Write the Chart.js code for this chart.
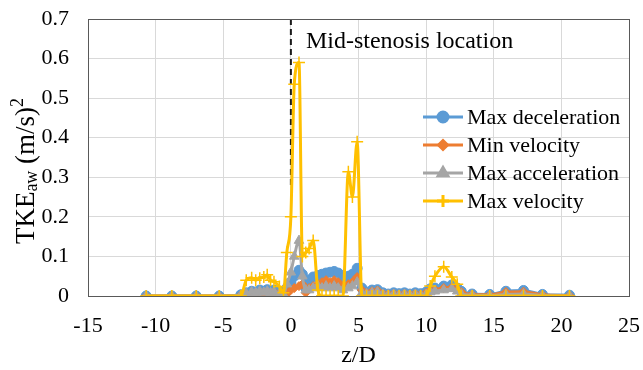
<!DOCTYPE html>
<html>
<head>
<meta charset="utf-8">
<script src="https://cdn.jsdelivr.net/npm/chart.js@4.4.1/dist/chart.umd.min.js"></script>
<style>
  html, body { margin: 0; padding: 0; background: #ffffff; }
  #wrap { width: 643px; height: 370px; }
</style>
</head>
<body>
<div id="wrap"><canvas id="c" width="643" height="370"></canvas></div>
<script>
// ---- data ----
const zD = [-10.7, -8.8, -7.0, -5.3, -3.7, -3.3, -2.9, -2.6, -2.3, -2.0, -1.75, -1.5, -1.25, -0.85, -0.55, -0.3,
  0.0, 0.25, 0.6, 0.85, 1.1, 1.35, 1.65, 2.0, 2.3, 2.6, 2.9, 3.2, 3.5, 3.85, 4.25, 4.55, 4.9, 5.25, 5.6,
  6.0, 6.4, 6.8, 7.2, 7.6, 8.0, 8.4, 8.8, 9.2, 9.6, 10.0, 10.3, 10.65, 11.3, 11.9, 12.3, 12.6, 13.4,
  14.7, 15.9, 17.2, 18.6, 20.6];

const maxDeceleration = [0, 0, 0, 0, 0.003, 0.008, 0.012, 0.01, 0.015, 0.012, 0.016, 0.012, 0.015, 0.01, 0.008, 0.02,
  0.035, 0.05, 0.065, 0.055, 0.02, 0.04, 0.048, 0.052, 0.055, 0.058, 0.06, 0.062, 0.058, 0.045, 0.05, 0.055, 0.07, 0.02, 0.01,
  0.015, 0.016, 0.008, 0.005, 0.008, 0.006, 0.008, 0.005, 0.008, 0.006, 0.01, 0.018, 0.02, 0.025, 0.028, 0.02, 0.012, 0.005,
  0.004, 0.012, 0.014, 0.004, 0.002];

const minVelocity = [0, 0, 0, 0, 0.002, 0.005, 0.008, 0.006, 0.01, 0.008, 0.01, 0.008, 0.01, 0.006, 0.004, 0.006,
  0.015, 0.02, 0.025, 0.03, 0.008, 0.02, 0.025, 0.03, 0.035, 0.04, 0.035, 0.04, 0.035, 0.025, 0.03, 0.035, 0.048, 0.015, 0.008,
  0.012, 0.014, 0.006, 0.004, 0.006, 0.004, 0.006, 0.004, 0.006, 0.004, 0.008, 0.014, 0.016, 0.02, 0.022, 0.016, 0.01, 0.004,
  0.003, 0.01, 0.011, 0.003, 0.001];

const maxAcceleration = [0, 0, 0, 0, 0.002, 0.006, 0.01, 0.008, 0.012, 0.009, 0.012, 0.008, 0.01, 0.005, 0.004, 0.03,
  0.06, 0.1, 0.14, 0.05, 0.015, 0.015, 0.02, 0.025, 0.02, 0.025, 0.02, 0.025, 0.02, 0.015, 0.02, 0.025, 0.035, 0.008, 0.005,
  0.008, 0.01, 0.004, 0.002, 0.004, 0.002, 0.004, 0.002, 0.004, 0.002, 0.004, 0.01, 0.012, 0.015, 0.018, 0.012, 0.005, 0.002,
  0.001, 0.004, 0.005, 0.001, 0];

const maxVelocity = [0, 0, 0, 0, 0, 0.04, 0.046, 0.04, 0.045, 0.048, 0.054, 0.04, 0.036, 0.024, 0.008, 0.11,
  0.20, 0.535, 0.59, 0.10, 0.11, 0.12, 0.14, 0.015, 0, 0, 0, 0, 0, 0, 0.314, 0.25, 0.39, 0, 0,
  0, 0, 0, 0, 0, 0, 0, 0, 0, 0, 0, 0.025, 0.05, 0.074, 0.048, 0.03, 0, 0,
  0, 0, 0, 0, 0];

const seriesNames = ["Max deceleration", "Min velocity", "Max acceleration", "Max velocity"];
const xTicks = [-15, -10, -5, 0, 5, 10, 15, 20, 25];
const yTicks = [0, 0.1, 0.2, 0.3, 0.4, 0.5, 0.6, 0.7];
const markerZ = 0;            // mid-stenosis location
const markerTop = 0.7, markerBottom = 0.28;
const annotationText = "Mid-stenosis location";
const xTitle = "z/D";

// ---- build ----
const colors = ["#5B9BD5", "#ED7D31", "#A5A5A5", "#FFC000"];
const styles = ["circle", "rectRot", "triangle", "cross"];
const radii = [5, 4.5, 5.5, 6];
const allSeries = [maxDeceleration, minVelocity, maxAcceleration, maxVelocity];
const toPts = arr => arr.map((v, i) => ({ x: zD[i], y: v }));

const datasets = allSeries.map((arr, k) => ({
  label: seriesNames[k],
  data: toPts(arr),
  showLine: true,
  borderColor: colors[k],
  backgroundColor: colors[k],
  borderWidth: 3,
  pointStyle: styles[k],
  pointRadius: radii[k],
  pointBorderWidth: k === 3 ? 1.5 : 1,
  pointBorderColor: colors[k],
  pointBackgroundColor: colors[k],
  cubicInterpolationMode: 'monotone',
  tension: 0.4,
  order: 3 - k
}));

const SERIF = '"Liberation Serif", "Times New Roman", serif';

const overlay = {
  id: 'overlay',
  beforeDatasetsDraw(chart) {
    const { ctx, scales } = chart;
    const x = scales.x.getPixelForValue(markerZ);
    ctx.save();
    ctx.strokeStyle = '#1a1a1a';
    ctx.lineWidth = 2;
    ctx.setLineDash([6, 4]);
    ctx.beginPath();
    ctx.moveTo(x, scales.y.getPixelForValue(markerTop));
    ctx.lineTo(x, scales.y.getPixelForValue(markerBottom));
    ctx.stroke();
    ctx.restore();
  },
  afterDatasetsDraw(chart) {
    const { ctx, chartArea: a, scales } = chart;
    ctx.save();
    // plot border
    ctx.strokeStyle = '#595959';
    ctx.lineWidth = 1;
    ctx.strokeRect(Math.round(a.left) + 0.5, Math.round(a.top) + 0.5, Math.round(a.right - a.left), Math.round(a.bottom - a.top));

    // annotation
    ctx.fillStyle = '#000';
    ctx.font = '24px ' + SERIF;
    ctx.textAlign = 'left';
    ctx.textBaseline = 'alphabetic';
    ctx.fillText(annotationText, scales.x.getPixelForValue(markerZ) + 15, 48);

    // legend
    const lx0 = 423, lx1 = 463, tx = 467;
    const ys = [117, 145, 173, 201];
    ctx.font = '22px ' + SERIF;
    seriesNames.forEach((name, k) => {
      const y = ys[k];
      ctx.strokeStyle = colors[k];
      ctx.lineWidth = 3;
      ctx.setLineDash([]);
      ctx.beginPath();
      ctx.moveTo(lx0, y); ctx.lineTo(lx1, y); ctx.stroke();
      ctx.fillStyle = colors[k];
      Chart.helpers.drawPoint(ctx, { pointStyle: styles[k], radius: radii[k], borderWidth: k === 3 ? 1.5 : 1, rotation: 0 }, (lx0 + lx1) / 2, y);
      ctx.fillStyle = '#000';
      ctx.textBaseline = 'middle';
      ctx.fillText(name, tx, y + 1);
    });

    // x title
    ctx.textAlign = 'center';
    ctx.textBaseline = 'alphabetic';
    ctx.font = '24px ' + SERIF;
    ctx.fillText(xTitle, (a.left + a.right) / 2, 362);

    // y title with sub/superscript
    ctx.translate(34, 171);
    ctx.rotate(-Math.PI / 2);
    const big = '27px ' + SERIF, small = '18px ' + SERIF;
    const parts = [
      { t: 'TKE', f: big, dy: 0 },
      { t: 'aw', f: small, dy: 3 },
      { t: ' (m/s)', f: big, dy: 0 },
      { t: '2', f: small, dy: -11 }
    ];
    let total = 0;
    parts.forEach(p => { ctx.font = p.f; p.w = ctx.measureText(p.t).width; total += p.w; });
    let cx = -total / 2;
    ctx.textAlign = 'left';
    ctx.textBaseline = 'alphabetic';
    parts.forEach(p => { ctx.font = p.f; ctx.fillText(p.t, cx, p.dy); cx += p.w; });
    ctx.restore();
  }
};

new Chart(document.getElementById('c'), {
  type: 'scatter',
  data: { datasets },
  options: {
    responsive: false,
    animation: false,
    devicePixelRatio: 1,
    layout: { padding: { left: 0, top: 19, right: 14, bottom: 0 } },
    plugins: { legend: { display: false }, tooltip: { enabled: false } },
    scales: {
      x: {
        type: 'linear', min: -15, max: 25,
        afterBuildTicks: s => { s.ticks = xTicks.map(v => ({ value: v })); },
        afterFit: s => { s.height = 74; s.paddingLeft = 0; s.paddingRight = 0; },
        grid: { color: '#d9d9d9', lineWidth: 1, drawTicks: false },
        border: { color: '#404040', width: 1 },
        ticks: { color: '#000', font: { family: SERIF, size: 22 }, padding: 17, maxRotation: 0,
          callback: v => String(v) }
      },
      y: {
        type: 'linear', min: 0, max: 0.7,
        afterBuildTicks: s => { s.ticks = yTicks.map(v => ({ value: v })); },
        afterFit: s => { s.width = 88; s.paddingTop = 0; s.paddingBottom = 0; },
        grid: { color: '#d9d9d9', lineWidth: 1, drawTicks: false },
        border: { color: '#404040', width: 1 },
        ticks: { color: '#000', font: { family: SERIF, size: 22 }, padding: 19,
          callback: v => (Math.round(v * 10) / 10).toString() }
      }
    }
  },
  plugins: [overlay]
});
</script>
</body>
</html>
